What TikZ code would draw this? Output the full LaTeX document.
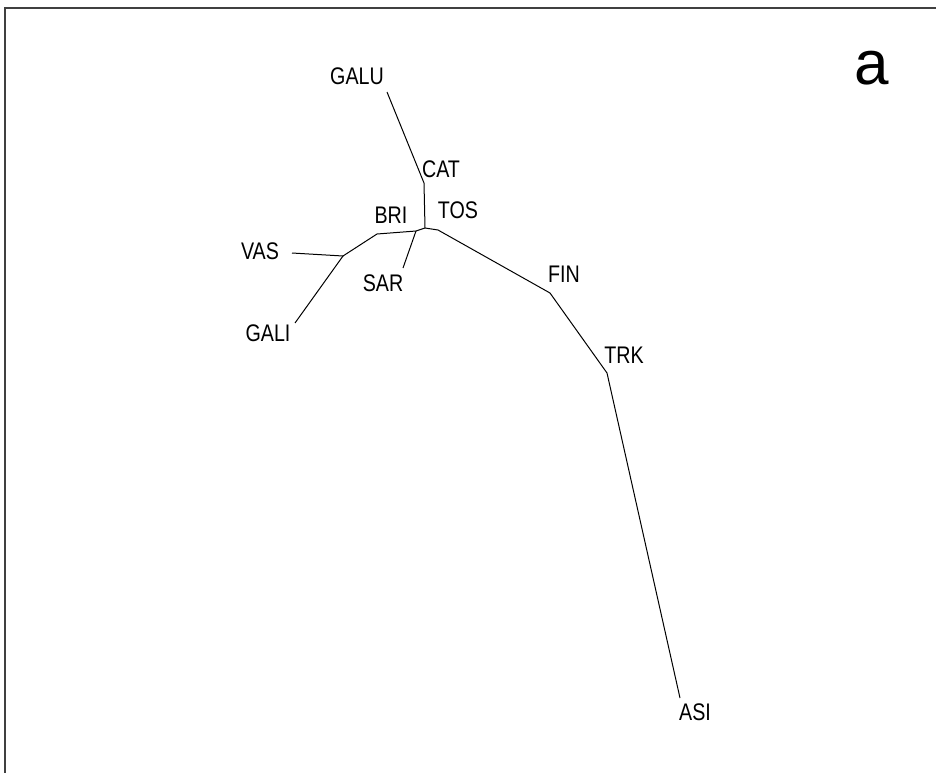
\documentclass[tikz,border=0pt]{standalone}
\usepackage{fontspec}
\setmainfont{Liberation Sans}
\usepackage{graphicx}
\begin{document}
\begin{tikzpicture}[x=1pt,y=-1pt,
  branch/.style={line width=1pt,black},
  leaf/.style={inner sep=0pt,font=\fontsize{24}{24}\selectfont},
  panel/.style={inner sep=0pt,font=\fontsize{62}{62}\selectfont}]
\useasboundingbox (0,0) rectangle (936,773);
% frame
\draw[line width=2pt,black!75] (936,8) -- (5,8) -- (5,773);
% tree junctions and branch tips
\coordinate (galuTip) at (387,92);
\coordinate (cat) at (424,183);
\coordinate (ctr) at (425,228);
\coordinate (sarRoot) at (416,231);
\coordinate (bri) at (377,234);
\coordinate (vasNode) at (343,256);
\coordinate (vasTip) at (292,253);
\coordinate (galiTip) at (295,323);
\coordinate (sarTip) at (403,268);
\coordinate (tos) at (438,230);
\coordinate (fin) at (550,293);
\coordinate (trk) at (607,373);
\coordinate (asiTip) at (680,698);
% branches
\draw[branch] (galuTip) -- (cat) -- (ctr);
\draw[branch] (ctr) -- (sarRoot) -- (bri) -- (vasNode) -- (vasTip);
\draw[branch] (vasNode) -- (galiTip);
\draw[branch] (sarRoot) -- (sarTip);
\draw[branch] (ctr) -- (tos) -- (fin) -- (trk) -- (asiTip);
% labels
\node[leaf] (lGALU) at (357,76) {\scalebox{0.82}[1]{GALU}};
\node[leaf] (lCAT) at (441,169) {\scalebox{0.82}[1]{CAT}};
\node[leaf] (lTOS) at (458,210) {\scalebox{0.82}[1]{TOS}};
\node[leaf] (lBRI) at (391,215) {\scalebox{0.82}[1]{BRI}};
\node[leaf] (lVAS) at (260,251) {\scalebox{0.82}[1]{VAS}};
\node[leaf] (lGALI) at (268,333) {\scalebox{0.82}[1]{GALI}};
\node[leaf] (lSAR) at (383,283) {\scalebox{0.82}[1]{SAR}};
\node[leaf] (lFIN) at (564,274) {\scalebox{0.82}[1]{FIN}};
\node[leaf] (lTRK) at (624,355) {\scalebox{0.82}[1]{TRK}};
\node[leaf] (lASI) at (695,712) {\scalebox{0.82}[1]{ASI}};
\node[panel] (panelA) at (872,68) {a};
\end{tikzpicture}
\end{document}
